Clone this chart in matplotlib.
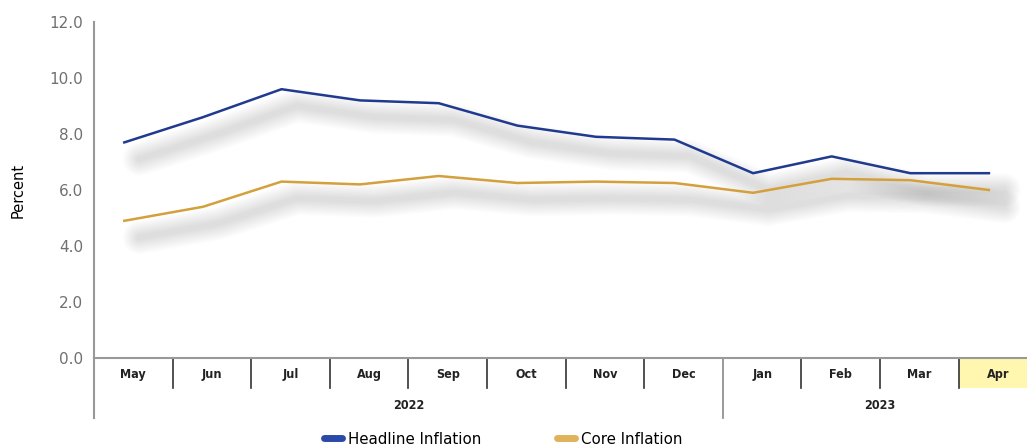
import matplotlib
matplotlib.use('Agg')
import matplotlib.pyplot as plt
import matplotlib.transforms as mtransforms
import matplotlib.patheffects as pe
from matplotlib.patches import Rectangle
from matplotlib.lines import Line2D

months = ['May', 'Jun', 'Jul', 'Aug', 'Sep', 'Oct', 'Nov', 'Dec', 'Jan', 'Feb', 'Mar', 'Apr']
years = ['2022', '2023']
year_span = [(0, 7), (8, 11)]
headline = [7.7, 8.6, 9.6, 9.2, 9.1, 8.3, 7.9, 7.8, 6.6, 7.2, 6.6, 6.6]
core = [4.9, 5.4, 6.3, 6.2, 6.5, 6.25, 6.3, 6.25, 5.9, 6.4, 6.35, 6.0]

W, H = 1027, 448
col = 78.6  # px per month column, the last column runs past the image edge
fig = plt.figure(figsize=(W / 100, H / 100), dpi=100)
ax = fig.add_axes([94 / W, 1 - 358 / H, col * len(months) / W, (358 - 22) / H])

x = list(range(len(months)))
# the lines sit a little left of the category centres
shift = mtransforms.offset_copy(ax.transData, fig=fig, x=-9, y=0, units='dots')

def shadow():
    effects = []
    for lw in range(24, 2, -2):
        effects.append(pe.SimpleLineShadow(offset=(11, -12), shadow_color='black',
                                           alpha=0.012, linewidth=lw,
                                           capstyle='round', joinstyle='round'))
    effects.append(pe.Normal())
    return effects

ax.plot(x, headline, color='#1f3a8f', lw=1.8, transform=shift, path_effects=shadow())
ax.plot(x, core, color='#d4a03c', lw=1.8, transform=shift, path_effects=shadow())

ax.set_xlim(-0.5, len(months) - 0.5)
ax.set_ylim(0, 12)
ax.set_yticks([0, 2, 4, 6, 8, 10, 12])
ax.set_yticklabels(['%.1f' % v for v in [0, 2, 4, 6, 8, 10, 12]])
ax.tick_params(axis='y', length=0, labelsize=11, labelcolor='#707070', pad=8)
ax.set_xticks([])
for s in ['top', 'right']:
    ax.spines[s].set_visible(False)
ax.spines['left'].set_color('#999999')
ax.spines['left'].set_linewidth(1.5)
ax.spines['bottom'].set_color('#999999')
ax.spines['bottom'].set_linewidth(1.5)
ax.set_ylabel('Percent', fontsize=10.5, labelpad=17)

# category table under the axis
tr = mtransforms.blended_transform_factory(ax.transData, ax.transAxes)
row1 = -30 / 336
row2 = -60 / 336
ax.add_patch(Rectangle((len(months) - 1.5, row1), 1, -row1, transform=tr,
                       facecolor='#fff6b0', edgecolor='none', clip_on=False, zorder=0))
for i, m in enumerate(months):
    ax.text(i, -16 / 336, m, transform=tr, ha='center', va='center',
            fontsize=9, fontweight='bold', fontstretch='condensed', color='#222222')
for i in range(1, len(months)):
    is_year = any(i == a for a, b in year_span[1:])
    ax.add_line(Line2D([i - 0.5, i - 0.5], [0, row2 if is_year else row1], transform=tr,
                       color='#888888' if is_year else '#333333', lw=1.2, clip_on=False))
ax.add_line(Line2D([-0.5, -0.5], [0, row2], transform=tr, color='#999999', lw=1.5,
                   clip_on=False))
for yr, (a, b) in zip(years, year_span):
    ax.text((a + b) / 2, -47 / 336, yr, transform=tr, ha='center', va='center',
            fontsize=9, fontweight='bold', fontstretch='condensed', color='#222222')

handles = [Line2D([], [], color='#2b4aa8', lw=5, solid_capstyle='round'),
           Line2D([], [], color='#e0b35a', lw=5, solid_capstyle='round')]
fig.legend(handles, ['Headline Inflation', 'Core Inflation'], loc='center',
           bbox_to_anchor=(0.49, 0.02), ncol=2, frameon=False, fontsize=10.8,
           handlelength=1.2, columnspacing=5, handletextpad=0.4)

fig.savefig('out.png', dpi=100)
